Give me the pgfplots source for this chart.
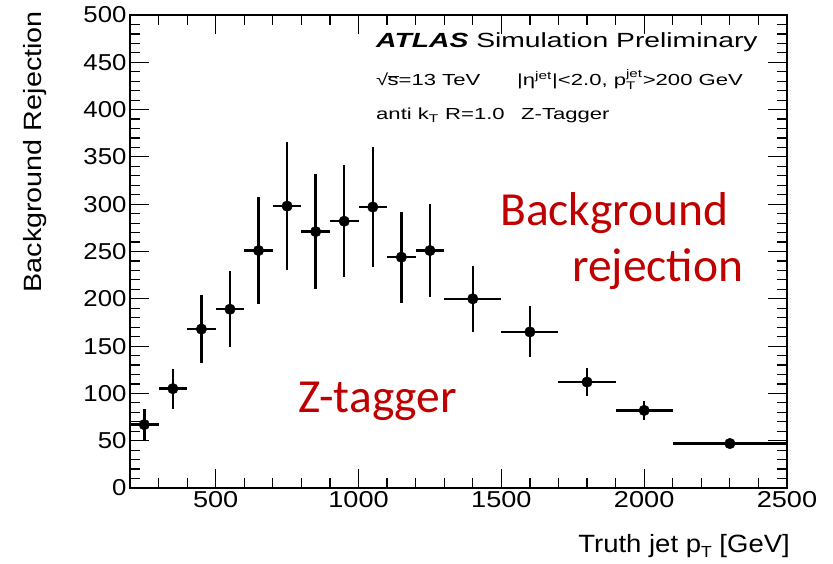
\documentclass[border=0pt]{standalone}
\usepackage{fontspec}
\setmainfont{Liberation Sans}
\newfontfamily\calibri{Carlito}
\usepackage{graphicx}
\usepackage{pgfplots}
\usepackage{pgfplotstable}
\pgfplotsset{compat=1.18}
\definecolor{pptred}{HTML}{C00000}

\pgfplotstableread{
x     y    ex   ey
250   67   50   16
350   105  50   21
450   168  50   36
550   189  50   40
650   251  50   57
750   298  50   68
850   271  50   61
950   282  50   59
1050  297  50   63
1150  244  50   48
1250  251  50   49
1400  200  100  35
1600  165  100  27
1800  112  100  15
2000  82   100  10
2300  47   200  3
}\zdata

\begin{document}
\begin{tikzpicture}
\path[use as bounding box] (-130pt,-75pt) rectangle (703pt,488pt);
\begin{axis}[
  at={(0pt,0pt)}, anchor=south west,
  scale only axis, width=657pt, height=473pt,
  xmin=200, xmax=2500, ymin=0, ymax=500,
  xtick={500,1000,...,2500}, minor xtick={200,300,...,2500},
  ytick={0,50,...,500}, minor ytick={0,10,...,500},
  scaled x ticks=false, scaled y ticks=false,
  tick align=inside, major tick length=19pt, minor tick length=10pt,
  tick style={line width=1.2pt, black},
  axis line style={line width=1.6pt},
  xticklabel={\scalebox{1.18}[1]{\pgfmathprintnumber[assume math mode=true,1000 sep={}]{\tick}}},
  yticklabel={\scalebox{1.12}[1]{\pgfmathprintnumber[assume math mode=true,1000 sep={}]{\tick}}},
  tick label style={font=\fontsize{23}{23}\selectfont},
  clip=false,
]
\addplot[only marks, mark=*, mark size=5.3pt, black,
  error bars/.cd, x dir=both, x explicit, y dir=both, y explicit,
  error mark=none, error bar style={line width=2.5pt, black}]
  table[x=x, y=y, x error=ex, y error=ey] {\zdata};
\end{axis}
% ATLAS labels
\node[anchor=base west, inner sep=0pt] at (246pt,440pt)
  {\scalebox{1.38}[1]{\fontsize{20.5}{20.5}\selectfont{\bfseries\itshape ATLAS} Simulation Preliminary}};
\node[anchor=base west, inner sep=0pt] at (246pt,402pt)
  {\scalebox{1.38}[1]{\fontsize{16}{16}\selectfont √\kern-0.5pt\rlap{\rule[0.58em]{0.5em}{0.06em}}s=13 TeV}};
\node[anchor=base west, inner sep=0pt] at (387pt,402pt)
  {\scalebox{1.38}[1]{\fontsize{16}{16}\selectfont |η\textsuperscript{jet}|<2.0, \(\mbox{p}^{\mbox{\fontsize{11}{11}\selectfont jet}}_{\mbox{\fontsize{11}{11}\selectfont T}}\)>200 GeV}};
\node[anchor=base west, inner sep=0pt] at (246pt,368pt)
  {\scalebox{1.38}[1]{\fontsize{16}{16}\selectfont anti k\textsubscript{T} R=1.0}};
\node[anchor=base west, inner sep=0pt] at (391pt,368pt)
  {\scalebox{1.38}[1]{\fontsize{16}{16}\selectfont Z-Tagger}};
% axis titles
\node[rotate=90, anchor=base east, inner sep=0pt] at (-88pt,477pt)
  {\scalebox{1.15}[1]{\fontsize{25}{25}\selectfont Background Rejection}};
\node[anchor=base east, inner sep=0pt] at (660pt,-64pt)
  {\scalebox{1.1}[1]{\fontsize{25}{25}\selectfont Truth jet p\raisebox{-0.2em}{\fontsize{16}{16}\selectfont T} [GeV]}};
% red annotations
\node[anchor=base west, inner sep=0pt, text=pptred] at (370pt,262pt)
  {\calibri\fontsize{47.5}{47.5}\selectfont Background};
\node[anchor=base west, inner sep=0pt, text=pptred] at (442pt,206pt)
  {\calibri\fontsize{47.5}{47.5}\selectfont rejection};
\node[anchor=base west, inner sep=0pt, text=pptred] at (168pt,76pt)
  {\calibri\fontsize{47.5}{47.5}\selectfont Z-tagger};
\end{tikzpicture}
\end{document}
